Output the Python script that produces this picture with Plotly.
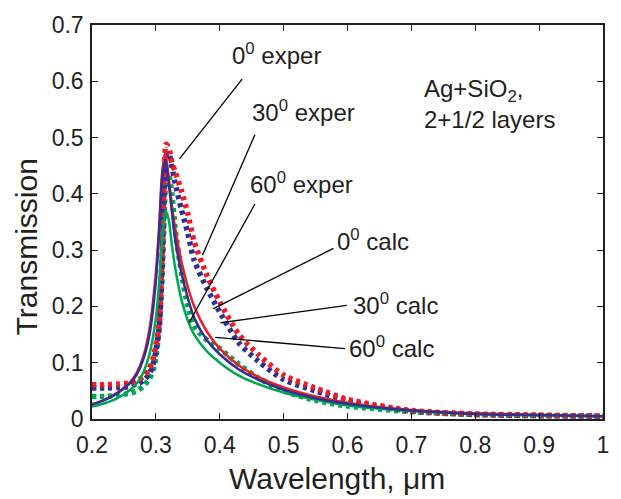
import plotly.graph_objects as go

# ---- data ----
lam_exp = [0.20, 0.22, 0.24, 0.26, 0.27, 0.28, 0.29, 0.295, 0.30, 0.305, 0.31, 0.313, 0.316,
           0.32, 0.325, 0.33, 0.34, 0.35, 0.36, 0.38, 0.40, 0.43, 0.46, 0.50, 0.55, 0.60,
           0.70, 0.80, 0.90, 1.00]
exp_0 = [0.061, 0.061, 0.062, 0.064, 0.068, 0.075, 0.090, 0.105, 0.130, 0.170, 0.300, 0.430, 0.488,
         0.482, 0.455, 0.440, 0.405, 0.365, 0.315, 0.255, 0.208, 0.150, 0.115, 0.078, 0.055, 0.035,
         0.015, 0.009, 0.007, 0.005]
exp_30 = [0.055, 0.055, 0.056, 0.058, 0.062, 0.068, 0.080, 0.095, 0.120, 0.160, 0.280, 0.410, 0.468,
          0.472, 0.448, 0.420, 0.372, 0.330, 0.282, 0.232, 0.190, 0.135, 0.103, 0.070, 0.050, 0.032,
          0.014, 0.008, 0.006, 0.005]
exp_60 = [0.040, 0.040, 0.042, 0.046, 0.050, 0.058, 0.072, 0.085, 0.110, 0.160, 0.260, 0.360, 0.425,
          0.435, 0.400, 0.340, 0.260, 0.200, 0.165, 0.140, 0.125, 0.097, 0.073, 0.050, 0.033, 0.023,
          0.013, 0.008, 0.006, 0.005]

lam_calc = [0.20, 0.22, 0.24, 0.26, 0.27, 0.28, 0.29, 0.30, 0.305, 0.31, 0.315, 0.32, 0.325, 0.33,
            0.34, 0.35, 0.36, 0.38, 0.40, 0.43, 0.46, 0.50, 0.55, 0.60, 0.70, 0.80, 0.90, 1.00]
calc_0 = [0.026, 0.034, 0.047, 0.066, 0.082, 0.110, 0.160, 0.260, 0.340, 0.440, 0.470, 0.430, 0.380,
          0.340, 0.280, 0.235, 0.200, 0.155, 0.125, 0.095, 0.075, 0.056, 0.040, 0.029, 0.016, 0.010,
          0.007, 0.005]
calc_30 = [0.026, 0.034, 0.046, 0.064, 0.079, 0.105, 0.150, 0.245, 0.330, 0.430, 0.460, 0.420, 0.370,
           0.320, 0.260, 0.215, 0.180, 0.140, 0.115, 0.088, 0.070, 0.052, 0.037, 0.027, 0.015, 0.009,
           0.007, 0.005]
calc_60 = [0.022, 0.028, 0.037, 0.052, 0.063, 0.082, 0.115, 0.180, 0.240, 0.320, 0.370, 0.355, 0.310,
           0.270, 0.212, 0.175, 0.150, 0.120, 0.100, 0.077, 0.062, 0.047, 0.034, 0.024, 0.014, 0.009,
           0.006, 0.005]

x_ticks = [0.2, 0.3, 0.4, 0.5, 0.6, 0.7, 0.8, 0.9, 1.0]
x_tick_text = ["0.2", "0.3", "0.4", "0.5", "0.6", "0.7", "0.8", "0.9", "1"]
y_ticks = [0, 0.1, 0.2, 0.3, 0.4, 0.5, 0.6, 0.7]
y_tick_text = ["0", "0.1", "0.2", "0.3", "0.4", "0.5", "0.6", "0.7"]

# labels: (text, text x, text y, pointer start x, y, pointer end x, y)
labels = [
    ("0<sup>0</sup> exper", 0.416, 0.648, 0.435, 0.604, 0.337, 0.462),
    ("30<sup>0</sup> exper", 0.447, 0.548, 0.455, 0.505, 0.373, 0.291),
    ("60<sup>0</sup> exper", 0.4445, 0.420, 0.455, 0.382, 0.352, 0.171),
    ("0<sup>0</sup> calc", 0.581, 0.318, 0.578, 0.303, 0.390, 0.196),
    ("30<sup>0</sup> calc", 0.605, 0.204, 0.599, 0.202, 0.401, 0.171),
    ("60<sup>0</sup> calc", 0.599, 0.128, 0.596, 0.125, 0.393, 0.145),
]

RED = "#ED1C24"
BLUE = "#2E3192"
GREEN = "#00A651"
FONT = "Liberation Sans, Arial, Helvetica, sans-serif"

fig = go.Figure()
for y, c in [(exp_60, GREEN), (exp_30, BLUE), (exp_0, RED)]:
    fig.add_trace(go.Scatter(x=lam_exp, y=y, mode="lines",
                             line=dict(color=c, width=5.5, dash="4px,4px", shape="spline", smoothing=0.7),
                             showlegend=False, hoverinfo="skip"))
for y, c in [(calc_60, GREEN), (calc_0, RED), (calc_30, BLUE)]:
    fig.add_trace(go.Scatter(x=lam_calc, y=y, mode="lines",
                             line=dict(color=c, width=2.5, shape="spline", smoothing=0.7),
                             showlegend=False, hoverinfo="skip"))

for text, tx, ty, x0, y0, x1, y1 in labels:
    fig.add_shape(type="line", xref="x", yref="y", x0=x0, y0=y0, x1=x1, y1=y1,
                  line=dict(color="black", width=1.3))
    fig.add_annotation(x=tx, y=ty, xref="x", yref="y", text=text, showarrow=False,
                       xanchor="left", yanchor="middle",
                       font=dict(family=FONT, size=24, color="#231F20"))

fig.add_annotation(x=0.717, y=0.560, xref="x", yref="y",
                   text="Ag+SiO<sub>2</sub>,<br>2+1/2 layers", showarrow=False,
                   xanchor="left", yanchor="middle", align="left",
                   font=dict(family=FONT, size=24, color="#231F20"))

# axis titles
fig.add_annotation(x=-0.128, y=0.437, xref="paper", yref="paper", text="Transmission",
                   textangle=-90, showarrow=False, xanchor="center", yanchor="middle",
                   font=dict(family=FONT, size=30, color="#231F20"))
fig.add_annotation(x=0.48, y=-0.152, xref="paper", yref="paper", text="Wavelength, \u03bcm",
                   showarrow=False, xanchor="center", yanchor="middle",
                   font=dict(family=FONT, size=30, color="#231F20"))

axis_common = dict(showline=True, linecolor="#231F20", linewidth=1.5, mirror="ticks",
                   ticks="inside", ticklen=6, tickwidth=1.2, tickcolor="#231F20",
                   showgrid=False, zeroline=False,
                   tickfont=dict(family=FONT, size=23, color="#231F20"))
fig.update_xaxes(range=[0.2, 1.0], tickvals=x_ticks, ticktext=x_tick_text,
                 ticklabelstandoff=5, **axis_common)
fig.update_yaxes(range=[0, 0.7], tickvals=y_ticks, ticktext=y_tick_text,
                 ticklabelstandoff=2, **axis_common)

fig.update_layout(width=621, height=499, margin=dict(l=92, r=12, t=12, b=80),
                  plot_bgcolor="white", paper_bgcolor="white", showlegend=False)

fig.write_html("out.html")
